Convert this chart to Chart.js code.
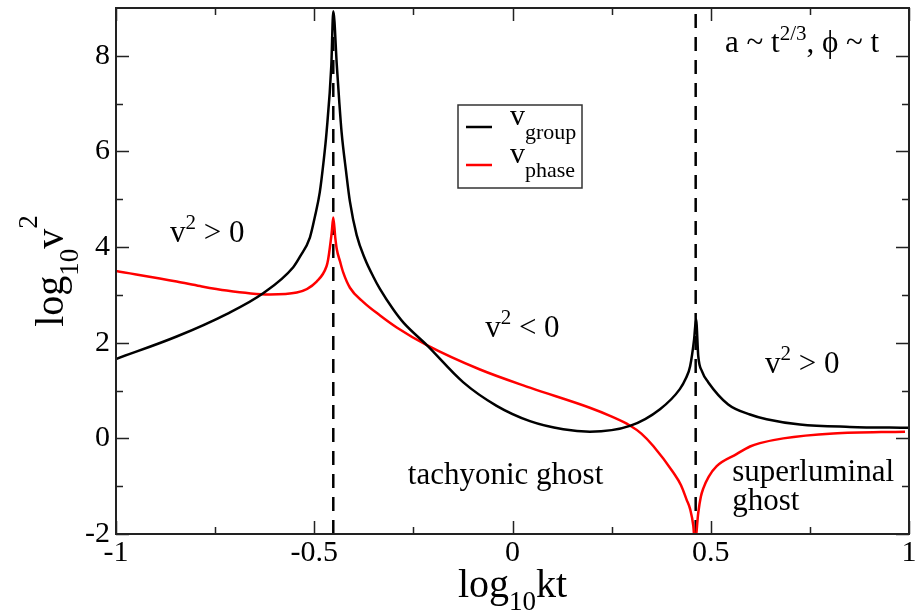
<!DOCTYPE html>
<html>
<head>
<meta charset="utf-8">
<title>Group and phase velocity</title>
<script src="https://cdn.jsdelivr.net/npm/chart.js@4.4.1/dist/chart.umd.min.js"></script>
<style>
    html, body { margin: 0; padding: 0; background: #ffffff; }
    #wrap { width: 922px; height: 614px; }
</style>
</head>
<body>
<div id="wrap"><canvas id="velocityChart" width="922" height="614"></canvas></div>
<script>
// log10 kt samples and log10 v^2 for the group velocity (black)
const groupX = [-1, -0.847, -0.721, -0.628, -0.553, -0.536, -0.511, -0.498, -0.486, -0.477,
    -0.469, -0.457, -0.452, -0.443, -0.437, -0.431, -0.42, -0.41, -0.393, -0.372,
    -0.351, -0.334, -0.301, -0.275, -0.216, -0.124, -0.04, 0.044, 0.128, 0.195,
    0.296, 0.372, 0.422, 0.437, 0.448, 0.458, 0.463, 0.4685, 0.478, 0.494,
    0.544, 0.599, 0.641, 0.725, 0.851, 1.0];
const groupY = [1.66, 2.13, 2.60, 3.04, 3.58, 3.80, 4.20, 4.65, 5.15, 5.75,
    6.40, 7.79, 8.93, 7.79, 7.05, 6.40, 5.60, 4.95, 4.25, 3.75,
    3.38, 3.12, 2.70, 2.42, 1.95, 1.17, 0.68, 0.36, 0.19, 0.14,
    0.26, 0.61, 1.03, 1.25, 1.51, 2.07, 2.49, 1.72, 1.40, 1.17,
    0.71, 0.50, 0.40, 0.29, 0.24, 0.22];

// same for the phase velocity (red)
const phaseX = [-1, -0.847, -0.788, -0.721, -0.66, -0.612, -0.544, -0.494, -0.469, -0.465,
    -0.456, -0.452, -0.447, -0.443, -0.435, -0.427, -0.41, -0.376, -0.334, -0.292,
    -0.216, -0.082, 0.044, 0.195, 0.246, 0.296, 0.325, 0.355, 0.406, 0.425,
    0.439, 0.448, 0.456, 0.46, 0.4686, 0.475, 0.481, 0.495, 0.515, 0.565,
    0.599, 0.624, 0.683, 0.809, 0.99];
const phaseY = [3.50, 3.28, 3.185, 3.09, 3.03, 3.01, 3.05, 3.28, 3.60, 3.74,
    4.30, 4.62, 4.20, 3.95, 3.70, 3.47, 3.15, 2.85, 2.57, 2.32,
    1.95, 1.44, 1.06, 0.64, 0.47, 0.27, 0.10, -0.16, -0.72, -0.98,
    -1.28, -1.48, -1.83, -2.2, -1.55, -1.22, -1.05, -0.80, -0.58, -0.33,
    -0.17, -0.10, 0.0, 0.10, 0.14];

// positions of the two singular points (dashed verticals)
const poleX = [-0.452, 0.462];

// axis ranges and ticks
const xMin = -1, xMax = 1;
const yMin = -2, yMax = 9;
const xTicks = [-1, -0.5, 0, 0.5, 1];
const xMinorTicks = [-0.75, -0.25, 0.25, 0.75];
const yTicks = [-2, 0, 2, 4, 6, 8];
const yMinorTicks = [-1, 1, 3, 5, 7];

const FONT = '"Liberation Serif", "Times New Roman", serif';

/**
 * Text labels placed in data coordinates.
 * Each part is [text, font size, vertical shift]
 */
const notes = [
    { x: -0.864, y: 4.10, parts: [['v', 31], ['2', 21, -13], [' > 0', 31]] },
    { x: -0.069, y: 2.11, parts: [['v', 31], ['2', 21, -13], [' < 0', 31]] },
    { x: 0.637, y: 1.36, parts: [['v', 31], ['2', 21, -13], [' > 0', 31]] },
    { x: -0.264, y: -0.96, parts: [['tachyonic ghost', 31]] },
    { x: 0.554, y: -0.90, parts: [['superluminal', 31]] },
    { x: 0.554, y: -1.49, parts: [['ghost', 31]] },
    { x: 0.536, y: 8.07, parts: [['a ~ t', 31], ['2/3', 21, -12], [', \u03d5 ~ t', 31]] }
];

/**
 * Draw a run of text pieces (for sub/superscripts), left to right
 */
function drawRich(ctx, x, y, parts) {
    let cx = x;
    parts.forEach(([text, size, dy]) => {
        ctx.font = size + 'px ' + FONT;
        ctx.fillText(text, cx, y + (dy || 0));
        cx += ctx.measureText(text).width;
    });
    return cx;
}

function richWidth(ctx, parts) {
    let w = 0;
    parts.forEach(([text, size]) => {
        ctx.font = size + 'px ' + FONT;
        w += ctx.measureText(text).width;
    });
    return w;
}

function toPoints(xs, ys) {
    return xs.map((x, i) => ({ x: x, y: ys[i] }));
}

// frame with inward ticks on all four sides, like xmgrace
const framePlugin = {
    id: 'frame',
    afterDatasetsDraw(chart) {
        const { ctx, chartArea: a, scales } = chart;
        const xs = scales.x, ys = scales.y;
        ctx.save();
        ctx.strokeStyle = '#222';
        ctx.lineWidth = 1.5;
        ctx.beginPath();
        const tick = (vals, len) => {
            vals.forEach(v => {
                const px = Math.round(xs.getPixelForValue(v)) + 0.5;
                ctx.moveTo(px, a.bottom); ctx.lineTo(px, a.bottom - len);
                ctx.moveTo(px, a.top); ctx.lineTo(px, a.top + len);
            });
        };
        const ytick = (vals, len) => {
            vals.forEach(v => {
                const py = Math.round(ys.getPixelForValue(v)) + 0.5;
                ctx.moveTo(a.left, py); ctx.lineTo(a.left + len, py);
                ctx.moveTo(a.right, py); ctx.lineTo(a.right - len, py);
            });
        };
        tick(xTicks, 13);
        tick(xMinorTicks, 7);
        ytick(yTicks, 13);
        ytick(yMinorTicks, 7);
        ctx.stroke();

        ctx.lineWidth = 2;
        ctx.strokeRect(a.left, a.top, a.right - a.left, a.bottom - a.top);
        ctx.restore();
    }
};

// annotations, legend box and axis titles
const textPlugin = {
    id: 'texts',
    afterDraw(chart) {
        const { ctx, scales } = chart;
        ctx.save();
        ctx.fillStyle = '#000';
        ctx.textBaseline = 'alphabetic';
        ctx.textAlign = 'left';

        notes.forEach(n => {
            drawRich(ctx, scales.x.getPixelForValue(n.x), scales.y.getPixelForValue(n.y), n.parts);
        });

        // legend
        ctx.strokeStyle = '#333';
        ctx.lineWidth = 1.5;
        ctx.strokeRect(458, 105, 124, 83);
        ctx.lineWidth = 2.5;
        ctx.strokeStyle = '#000';
        ctx.beginPath(); ctx.moveTo(466, 127); ctx.lineTo(492, 127); ctx.stroke();
        ctx.strokeStyle = '#ff0000';
        ctx.beginPath(); ctx.moveTo(466, 165); ctx.lineTo(492, 165); ctx.stroke();
        drawRich(ctx, 510, 125, [['v', 30], ['group', 22, 14]]);
        drawRich(ctx, 510, 163, [['v', 30], ['phase', 22, 14]]);

        // x axis title
        const xt = [['log', 40], ['10', 27, 13], ['kt', 40]];
        const cx = (chart.chartArea.left + chart.chartArea.right) / 2;
        drawRich(ctx, cx - richWidth(ctx, xt) / 2, 597, xt);

        // y axis title, rotated
        const yt = [['log', 40], ['10', 27, 15], ['v', 40], ['2', 27, -26]];
        const cy = (chart.chartArea.top + chart.chartArea.bottom) / 2;
        ctx.translate(63, cy);
        ctx.rotate(-Math.PI / 2);
        drawRich(ctx, -richWidth(ctx, yt) / 2, 0, yt);
        ctx.restore();
    }
};

const ctx = document.getElementById('velocityChart').getContext('2d');

new Chart(ctx, {
    type: 'scatter',
    data: {
        datasets: [
            {
                label: 'v_group',
                data: toPoints(groupX, groupY),
                showLine: true,
                borderColor: '#000000',
                borderWidth: 2.5,
                pointRadius: 0,
                cubicInterpolationMode: 'monotone'
            },
            {
                label: 'v_phase',
                data: toPoints(phaseX, phaseY),
                showLine: true,
                borderColor: '#ff0000',
                borderWidth: 2.5,
                pointRadius: 0,
                cubicInterpolationMode: 'monotone'
            },
            ...poleX.map(px => ({
                label: 'pole',
                data: [{ x: px, y: yMin }, { x: px, y: yMax }],
                showLine: true,
                borderColor: '#000000',
                borderWidth: 2.5,
                borderDash: [14, 9],
                pointRadius: 0
            }))
        ]
    },
    options: {
        responsive: false,
        animation: false,
        devicePixelRatio: 1,
        layout: { padding: { top: 8, right: 13, left: 0, bottom: 0 } },
        plugins: {
            legend: { display: false },
            tooltip: { enabled: false }
        },
        scales: {
            x: {
                type: 'linear',
                min: xMin,
                max: xMax,
                afterBuildTicks: s => { s.ticks = xTicks.map(v => ({ value: v })); },
                afterFit: s => { s.height = 80; s.paddingLeft = 0; s.paddingRight = 0; },
                grid: { display: false, drawTicks: false },
                border: { display: false },
                ticks: {
                    color: '#000',
                    padding: 1,
                    maxRotation: 0,
                    font: { family: FONT, size: 30 },
                    callback: v => String(v)
                }
            },
            y: {
                type: 'linear',
                min: yMin,
                max: yMax,
                afterBuildTicks: s => { s.ticks = yTicks.map(v => ({ value: v })); },
                afterFit: s => { s.width = 116; s.paddingTop = 0; s.paddingBottom = 0; },
                grid: { display: false, drawTicks: false },
                border: { display: false },
                ticks: {
                    color: '#000',
                    padding: 6,
                    font: { family: FONT, size: 30 },
                    callback: v => String(v)
                }
            }
        }
    },
    plugins: [framePlugin, textPlugin]
});
</script>
</body>
</html>
